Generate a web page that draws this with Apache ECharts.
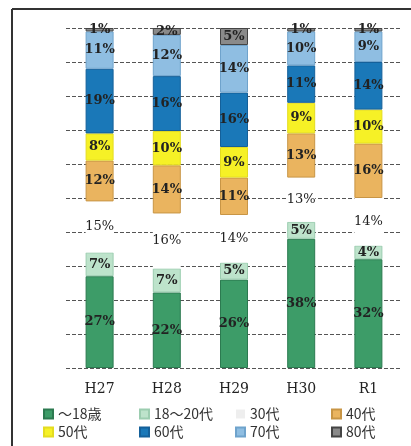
<!DOCTYPE html>
<html>
<head>
<meta charset="utf-8">
<script src="https://cdn.jsdelivr.net/npm/echarts@6/dist/echarts.min.js"></script>
<style>
  html, body { margin: 0; padding: 0; background: #fff; }
  #main { width: 411px; height: 446px; }
</style>
</head>
<body>
<div id="main"></div>
<script>
// 年度
const years = ['H27', 'H28', 'H29', 'H30', 'R1']
// 年代別の割合 (%)
const age18 = [27, 22, 26, 38, 32]
const age18to20 = [7, 7, 5, 5, 4]
const age30 = [15, 16, 14, 13, 14]
const age40 = [12, 14, 11, 13, 16]
const age50 = [8, 10, 9, 9, 10]
const age60 = [19, 16, 16, 11, 14]
const age70 = [11, 12, 14, 10, 9]
const age80 = [1, 2, 5, 1, 1]

const groups = [
  { name: '〜18歳', data: age18, color: '#3d9c68', border: '#2c7a50' },
  { name: '18〜20代', data: age18to20, color: '#bde3cb', border: '#9ccdb0' },
  { name: '30代', data: age30, color: '#ffffff', border: '#ffffff' },
  { name: '40代', data: age40, color: '#eab45f', border: '#c89545' },
  { name: '50代', data: age50, color: '#f6f126', border: '#e4dc20' },
  { name: '60代', data: age60, color: '#1a78b8', border: '#14609a' },
  { name: '70代', data: age70, color: '#8fbee2', border: '#6fa3cc' },
  { name: '80代', data: age80, color: '#8a8a8a', border: '#444444' }
]

// 各年度の合計（丸めで100にならない年度を100%に揃える）
const totals = years.map((y, i) => groups.reduce((s, g) => s + g.data[i], 0))

let chart = echarts.init(document.getElementById('main'))

let series = groups.map(g => {
  let is30 = g.name === '30代'
  return {
    name: g.name,
    type: 'bar',
    stack: 'total',
    barWidth: 28,
    data: g.data.map((v, i) => v * 100 / totals[i]),
    itemStyle: {
      color: g.color,
      borderColor: g.border,
      borderWidth: is30 ? 0 : 1
    },
    label: {
      show: true,
      position: 'inside',
      formatter: p => g.data[p.dataIndex] + '%',
      fontFamily: 'DejaVu Serif',
      fontWeight: is30 ? 'normal' : 'bold',
      fontSize: 13,
      color: '#222'
    },
    emphasis: { disabled: true }
  }
})

// 凡例は4列×2行
const legendLefts = [38, 134, 230, 326]
let legends = legendLefts.map((x, c) => ({
  orient: 'vertical',
  left: x,
  top: 402,
  itemWidth: 9,
  itemHeight: 9,
  itemGap: 4,
  icon: 'rect',
  selectedMode: false,
  textStyle: {
    fontFamily: 'Noto Sans CJK JP',
    fontSize: 14,
    color: '#333'
  },
  data: [groups[c], groups[c + 4]].map(g => ({
    name: g.name,
    itemStyle: g.name === '30代' ? { color: '#eeeeee', borderWidth: 0 } : {}
  }))
}))

let option = {
  animation: false,
  backgroundColor: '#fff',
  grid: { left: 66, right: 9, top: 28, bottom: 78 },
  xAxis: {
    type: 'category',
    data: years,
    axisLine: { show: false },
    axisTick: { show: false },
    axisLabel: {
      margin: 14,
      fontFamily: 'DejaVu Serif',
      fontSize: 14,
      color: '#222'
    }
  },
  yAxis: {
    type: 'value',
    min: 0,
    max: 100,
    interval: 10,
    axisLabel: { show: false },
    axisLine: { show: false },
    axisTick: { show: false },
    splitLine: { lineStyle: { color: '#555', type: [4, 2], width: 1 } }
  },
  legend: legends,
  graphic: [
    { type: 'line', shape: { x1: 12, y1: 9, x2: 411, y2: 9 }, style: { stroke: '#333', lineWidth: 2 } },
    { type: 'line', shape: { x1: 12, y1: 9, x2: 12, y2: 446 }, style: { stroke: '#333', lineWidth: 2 } }
  ],
  series: series
}
chart.setOption(option)
</script>
</body>
</html>
